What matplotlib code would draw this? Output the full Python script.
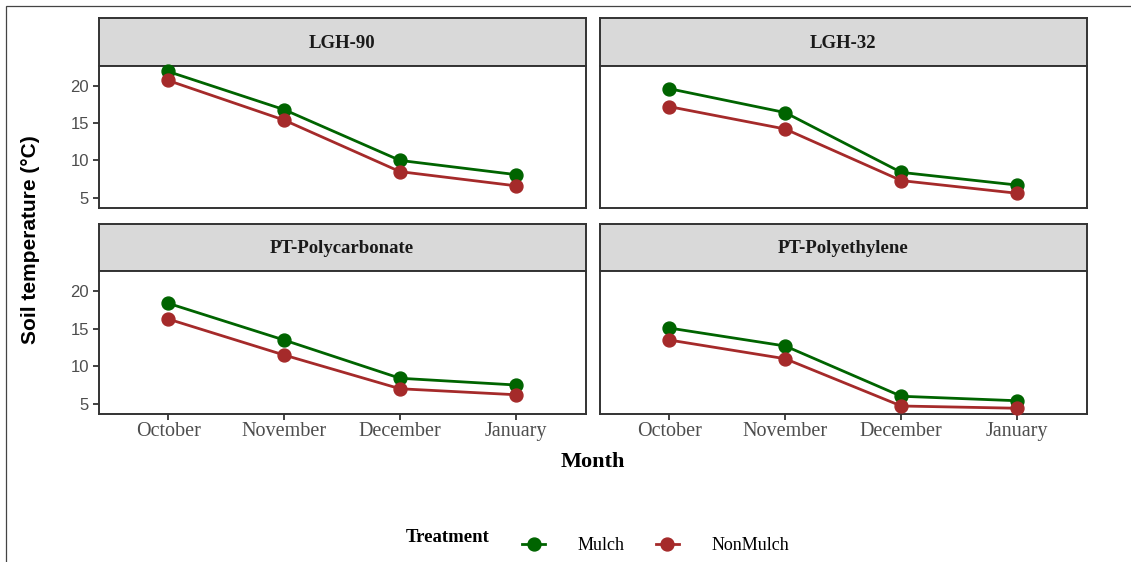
import matplotlib
matplotlib.use("Agg")
import matplotlib.pyplot as plt
from matplotlib.lines import Line2D
from matplotlib.patches import Rectangle

months = ["October", "November", "December", "January"]
panels = ["LGH-90", "LGH-32", "PT-Polycarbonate", "PT-Polyethylene"]

mulch = {
    "LGH-90": [21.9, 16.8, 10.0, 8.1],
    "LGH-32": [19.6, 16.4, 8.4, 6.7],
    "PT-Polycarbonate": [18.4, 13.5, 8.4, 7.5],
    "PT-Polyethylene": [15.1, 12.7, 6.0, 5.4],
}
nonmulch = {
    "LGH-90": [20.7, 15.4, 8.5, 6.6],
    "LGH-32": [17.2, 14.2, 7.3, 5.6],
    "PT-Polycarbonate": [16.3, 11.5, 7.0, 6.2],
    "PT-Polyethylene": [13.5, 11.0, 4.7, 4.4],
}
yticks = [5, 10, 15, 20]

green = "#006400"
red = "#A52A2A"
edge = "#333333"
serif = "Liberation Serif"
sans = "Liberation Sans"

W, H = 1131, 562
fig = plt.figure(figsize=(W / 100, H / 100), dpi=100)

# frame of the surrounding page box
fig.add_artist(Rectangle((5.5 / W, -0.1), 1.2, 1 - 5.7 / H + 0.1,
                         transform=fig.transFigure, fill=False,
                         edgecolor="#444444", linewidth=0.9))

def px_box(x0, y0, x1, y1):
    return [x0 / W, 1 - y1 / H, (x1 - x0) / W, (y1 - y0) / H]

cols = [(98.5, 585.5), (599.5, 1087)]
rows = [(18, 65.5, 207.5), (224, 271, 413.5)]

x = list(range(1, len(months) + 1))
for i, name in enumerate(panels):
    r, c = divmod(i, 2)
    x0, x1 = cols[c]
    s0, p0, p1 = rows[r]

    # facet strip
    sx = fig.add_axes(px_box(x0, s0, x1, p0))
    sx.set_facecolor("#D9D9D9")
    sx.set_xticks([])
    sx.set_yticks([])
    for sp in sx.spines.values():
        sp.set_color(edge)
        sp.set_linewidth(1.4)
    sx.text(0.5, 0.47, name, transform=sx.transAxes, ha="center", va="center",
            fontsize=13.5, fontweight="bold", family=serif, color="#1a1a1a")

    ax = fig.add_axes(px_box(x0, p0, x1, p1))
    ax.plot(x, mulch[name], color=green, linewidth=2.0, marker="o",
            markersize=9.3, zorder=3, clip_on=False)
    ax.plot(x, nonmulch[name], color=red, linewidth=2.0, marker="o",
            markersize=9.3, zorder=3, clip_on=False)
    ax.set_xlim(0.4, 4.6)
    ax.set_ylim(3.7, 22.7)
    for sp in ax.spines.values():
        sp.set_color(edge)
        sp.set_linewidth(1.4)
    ax.tick_params(colors=edge, length=4, width=1.3)

    if r == 1:
        ax.set_xticks(x)
        ax.set_xticklabels(months, family=serif, fontsize=14.5, color="#4d4d4d")
        ax.tick_params(axis="x", pad=2)
    else:
        ax.set_xticks([])
    if c == 0:
        ax.set_yticks(yticks)
        ax.set_yticklabels([str(v) for v in yticks], family=sans,
                           fontsize=12, color="#4d4d4d")
        ax.tick_params(axis="y", pad=3)
    else:
        ax.set_yticks([])

fig.text(31 / W, 1 - 240 / H, "Soil temperature (°C)", rotation=90,
         ha="center", va="center", fontsize=15, fontweight="bold", family=sans)
fig.text(593 / W, 1 - 462 / H, "Month", ha="center", va="center",
         fontsize=16, fontweight="bold", family=serif)

# legend
fig.text(448 / W, 1 - 538 / H, "Treatment", ha="center", va="center",
         fontsize=13.5, fontweight="bold", family=serif)
handles = [Line2D([], [], color=green, linewidth=2.0, marker="o", markersize=9.3),
           Line2D([], [], color=red, linewidth=2.0, marker="o", markersize=9.3)]
fig.legend(handles, ["Mulch", "NonMulch"], ncol=2, frameon=False,
           loc="center left", bbox_to_anchor=(522 / W, 1 - 546 / H),
           prop={"family": serif, "size": 13}, handlelength=1.3,
           handletextpad=1.8, columnspacing=1.7, borderaxespad=0,
           borderpad=0)

fig.savefig("out.png", dpi=100)
